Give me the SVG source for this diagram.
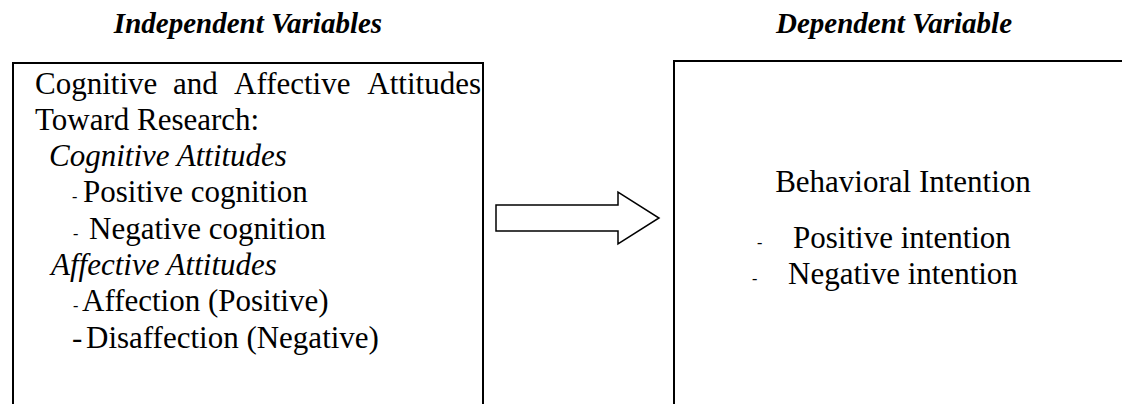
<svg xmlns="http://www.w3.org/2000/svg" width="1122" height="404" viewBox="0 0 1122 404">
<style>
.t{font-size:31px;fill:#000}
.i{font-style:italic}
.h{font-size:29px;font-weight:bold;font-style:italic;fill:#000;text-anchor:middle}
.d{font-size:16px;fill:#000}
.box{fill:#fff;stroke:#000;stroke-width:2}
.arrow{fill:#fff;stroke:#000;stroke-width:1.5;stroke-linejoin:miter}
</style>
<rect width="1122" height="404" fill="#fff"/>
<g font-family="Liberation Serif, Times New Roman, serif">
<g id="titles">
<text class="h" x="248" y="33">Independent Variables</text>
<text class="h" x="894" y="33">Dependent Variable</text>
</g>
<g id="independent">
<rect class="box" x="13" y="63" width="470" height="380"/>
<text class="t" y="94"><tspan x="35">Cognitive</tspan><tspan x="173">and</tspan><tspan x="234">Affective</tspan><tspan x="481" text-anchor="end">Attitudes</tspan></text>
<text class="t" x="35" y="130">Toward Research:</text>
<text class="t i" x="49" y="166">Cognitive Attitudes</text>
<text class="d" x="72" y="202">-</text>
<text class="t" x="83" y="202">Positive cognition</text>
<text class="d" x="73" y="239">-</text>
<text class="t" x="89" y="239">Negative cognition</text>
<text class="t i" x="51" y="275">Affective Attitudes</text>
<text class="d" x="73" y="311">-</text>
<text class="t" x="82" y="311">Affection (Positive)</text>
<text class="t" x="72" y="348">-</text>
<text class="t" x="86" y="348">Disaffection (Negative)</text>
</g>
<g id="dependent">
<rect class="box" x="674" y="61" width="470" height="380"/>
<text class="t" x="903" y="192" text-anchor="middle">Behavioral Intention</text>
<text class="d" x="757" y="248">-</text>
<text class="t" x="793" y="248">Positive intention</text>
<text class="d" x="752" y="284">-</text>
<text class="t" x="788" y="284">Negative intention</text>
</g>
</g>
<g id="connectors">
<polygon class="arrow" points="496,205 618,205 618,192 659,218 618,244 618,231 496,231"/>
</g>
</svg>
